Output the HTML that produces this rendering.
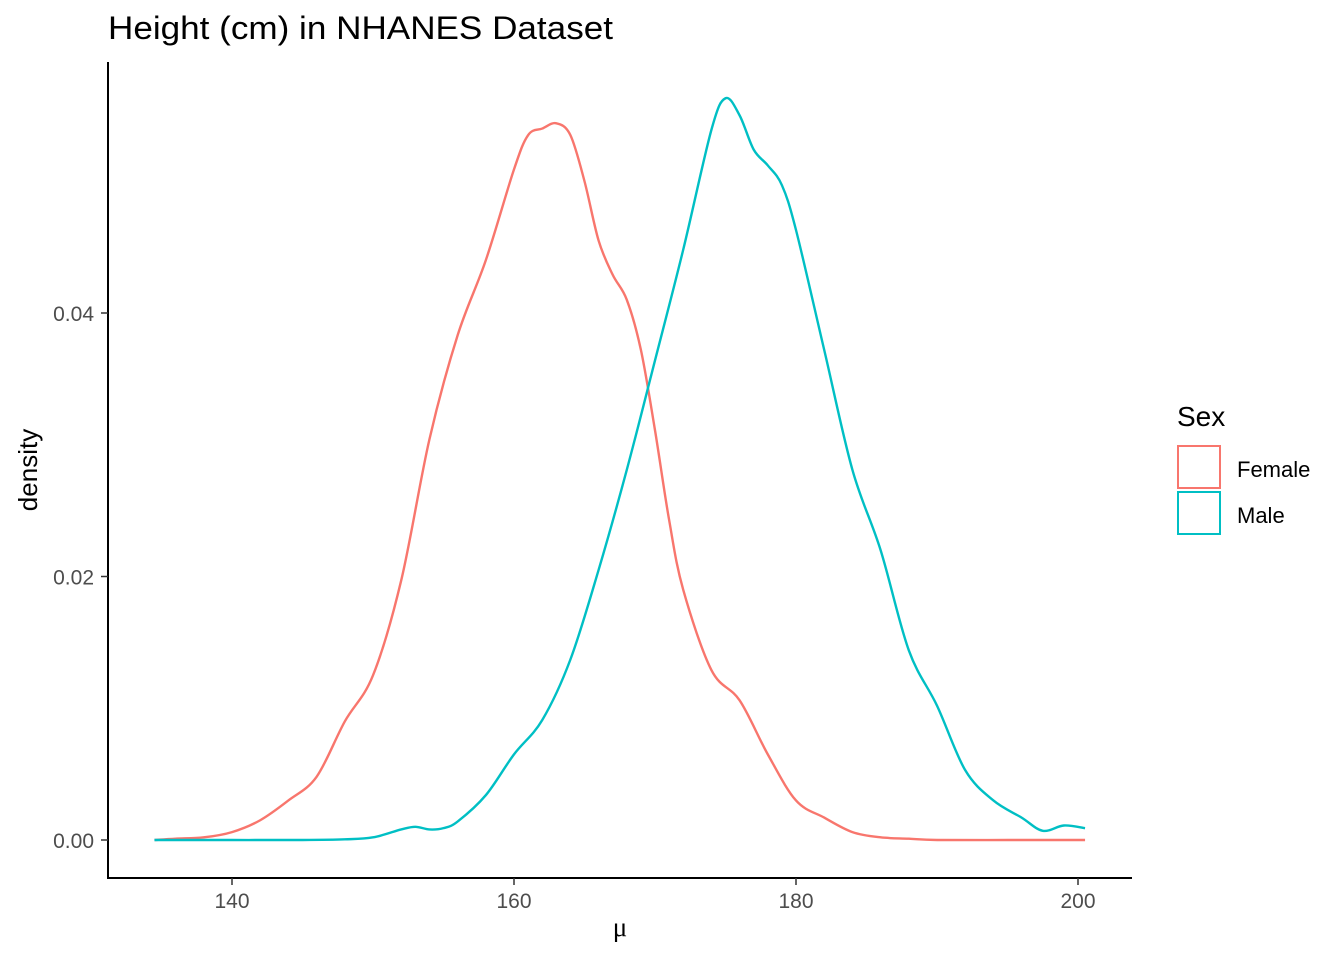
<!DOCTYPE html>
<html><head><meta charset="utf-8"><style>
body{margin:0;background:#fff;}
svg{display:block;font-family:"Liberation Sans",Arial,sans-serif;}
</style></head><body>
<svg id="chart" width="1344" height="960">
<text x="108" y="39" font-size="32" textLength="505" lengthAdjust="spacingAndGlyphs" fill="#000">Height (cm) in NHANES Dataset</text>
<g id="axes"></g>
<g id="series"></g>
<text x="620" y="936" font-size="27" text-anchor="middle" font-family="Liberation Serif,serif">μ</text>
<text transform="translate(37,470) rotate(-90)" font-size="26" text-anchor="middle">density</text>
<g>
<text x="1177" y="426" font-size="28">Sex</text>
<g><rect x="1178" y="446" width="42" height="42" fill="none" stroke="#F8766D" stroke-width="2"/><text x="1237" y="477" font-size="22">Female</text></g>
<g><rect x="1178" y="492" width="42" height="42" fill="none" stroke="#00BFC4" stroke-width="2"/><text x="1237" y="523" font-size="22">Male</text></g>
</g>
</svg>
<script>
const xTicks=[140,160,180,200];
const yTicks=[0,0.02,0.04];
const yTickLabels=["0.00","0.02","0.04"];
const femaleX=[134.5,136,138,140,142,144,146,148,150,152,154,156,158,160,161,162,163,164,165,166,167,168,169,170,171,172,174,176,178,180,182,184,186,188,190,195,200.5];
const femaleY=[0,0.0001,0.0002,0.0006,0.0015,0.003,0.0048,0.009,0.0125,0.0197,0.0304,0.0383,0.044,0.0509,0.0535,0.054,0.0544,0.0535,0.050,0.0455,0.0429,0.041,0.0372,0.0311,0.0243,0.019,0.0129,0.0106,0.0065,0.003,0.0017,0.0006,0.0002,0.0001,0,0,0];
const maleX=[134.5,140,145,148,150,152,153,154,155,156,158,160,162,164,166,168,170,172,174,175,176,177,178,179,180,182,184,186,188,190,192,194,196,197.5,199,200.5];
const maleY=[0,0,0,0.00005,0.0002,0.0008,0.001,0.0008,0.0009,0.0014,0.0034,0.0065,0.0091,0.0137,0.0205,0.0281,0.0364,0.0448,0.0539,0.0563,0.055,0.0524,0.0512,0.0497,0.0463,0.0372,0.0281,0.022,0.0144,0.0102,0.0053,0.003,0.0017,0.0007,0.0011,0.0009];
const X=v=>232+(v-140)*14.1;
const Y=v=>840-v*13175;
const NS="http://www.w3.org/2000/svg";
const axes=document.getElementById('axes');
function mk(t,a,p){const e=document.createElementNS(NS,t);for(const k in a)e.setAttribute(k,a[k]);p.appendChild(e);return e;}
const yl=mk('line',{x1:108,y1:62,x2:108,y2:878,stroke:'#000','stroke-width':2},axes);


const xl=mk('line',{x1:107,y1:878,x2:1132,y2:878,stroke:'#000','stroke-width':2},axes);


xTicks.forEach(v=>{
 mk('line',{x1:X(v),y1:878,x2:X(v),y2:885,stroke:'#333','stroke-width':1.5},axes);
 const t=mk('text',{x:X(v),y:908,'font-size':21,fill:'#4d4d4d','text-anchor':'middle'},axes);t.textContent=v;
 
 
});
yTicks.forEach((v,i)=>{
 mk('line',{x1:101,y1:Y(v),x2:108,y2:Y(v),stroke:'#333','stroke-width':1.5},axes);
 const t=mk('text',{x:94,y:Y(v)+8,'font-size':21,fill:'#4d4d4d','text-anchor':'end'},axes);t.textContent=yTickLabels[i];
 
 
});
function path(xs,ys){
 const p=xs.map((x,i)=>[X(x),Y(ys[i])]);
 let d=`M${p[0][0]},${p[0][1]}`;
 for(let i=0;i<p.length-1;i++){
  const p0=p[i-1]||p[i],p1=p[i],p2=p[i+1],p3=p[i+2]||p2;
  d+=`C${p1[0]+(p2[0]-p0[0])/6},${p1[1]+(p2[1]-p0[1])/6} ${p2[0]-(p3[0]-p1[0])/6},${p2[1]-(p3[1]-p1[1])/6} ${p2[0]},${p2[1]}`;
 }
 return d;
}
const s=document.getElementById('series');
const f=mk('path',{d:path(femaleX,femaleY),fill:'none',stroke:'#F8766D','stroke-width':2.4},s);


const m=mk('path',{d:path(maleX,maleY),fill:'none',stroke:'#00BFC4','stroke-width':2.4},s);


</script>
</body></html>
